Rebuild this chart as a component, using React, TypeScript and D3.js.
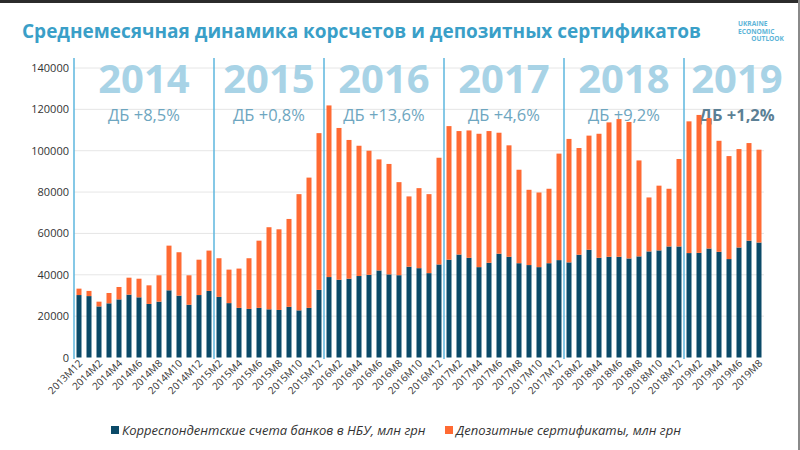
import React, { useEffect, useRef } from 'react';
import * as d3 from 'd3';

// месяцы по оси X
const months = (
  '2013M12 ' +
  '2014M1 2014M2 2014M3 2014M4 2014M5 2014M6 2014M7 2014M8 2014M9 2014M10 2014M11 2014M12 ' +
  '2015M1 2015M2 2015M3 2015M4 2015M5 2015M6 2015M7 2015M8 2015M9 2015M10 2015M11 2015M12 ' +
  '2016M1 2016M2 2016M3 2016M4 2016M5 2016M6 2016M7 2016M8 2016M9 2016M10 2016M11 2016M12 ' +
  '2017M1 2017M2 2017M3 2017M4 2017M5 2017M6 2017M7 2017M8 2017M9 2017M10 2017M11 2017M12 ' +
  '2018M1 2018M2 2018M3 2018M4 2018M5 2018M6 2018M7 2018M8 2018M9 2018M10 2018M11 2018M12 ' +
  '2019M1 2019M2 2019M3 2019M4 2019M5 2019M6 2019M7 2019M8'
).split(' ');

// корсчета банков в НБУ, млн грн
const corr = [
  30200,
  29700, 24700, 26200, 28100, 30400, 29100, 25900, 27000, 32500, 29900, 25500, 30200,
  32200, 29300, 26300, 24000, 23500, 24000, 23300, 23000, 24500, 22800, 24000, 32700,
  38900, 37600, 38100, 39400, 40000, 42100, 40200, 39800, 43900, 43200, 40800, 45000,
  47300, 49800, 48200, 43700, 45800, 50200, 48700, 45600, 44700, 43700, 45600, 47100,
  46000, 49700, 52100, 48200, 48700, 48700, 47900, 48900, 51300, 51800, 53700, 53700,
  50500, 50600, 52700, 51100, 47600, 53200, 56500, 55600,
];

// депозитные сертификаты, млн грн
const cds = [
  3100,
  2500, 2300, 5000, 6000, 8200, 9000, 9000, 12750, 21600, 21000, 14250, 17100,
  19500, 18700, 16200, 19000, 24500, 32500, 39700, 39000, 42500, 56200, 63000, 75800,
  83000, 73400, 67100, 63000, 60000, 53700, 53400, 45000, 34000, 38700, 38200, 51600,
  64600, 59700, 61600, 64500, 63700, 58500, 53900, 45200, 36400, 36100, 36000, 51500,
  59700, 51600, 55200, 60000, 65000, 66600, 66000, 46400, 26100, 31300, 27900, 42300,
  63700, 66700, 63100, 53700, 49800, 47600, 47200, 44900,
];

const yTicks = [0, 20000, 40000, 60000, 80000, 100000, 120000, 140000];

// годы, прирост ДБ и месяц, с которого начинается блок года
const years = ['2014', '2015', '2016', '2017', '2018', '2019'];
const growth = ['ДБ +8,5%', 'ДБ +0,8%', 'ДБ +13,6%', 'ДБ +4,6%', 'ДБ +9,2%', 'ДБ +1,2%'];
const yearStart = ['2013M12', '2015M2', '2016M1', '2017M1', '2018M1', '2019M1'];

const seriesNames = ['Корреспондентские счета банков в НБУ, млн грн', 'Депозитные сертификаты, млн грн'];
const colors = ['#0b4a68', '#ff6a33'];

const App = () => {
  const chartRef = useRef(null);

  useEffect(() => {
    const svg = d3.select(chartRef.current);
    svg.selectAll('*').remove();

    const font = "'Open Sans', sans-serif";
    const left = 74, right = 764, top = 68, bottom = 357.5;

    const x = d3.scaleBand()
      .domain(months)
      .range([left, right])
      .paddingInner(0.5)
      .paddingOuter(0.25);

    const y = d3.scaleLinear()
      .domain([0, 140000])
      .range([bottom, top]);

    svg.append('rect').attr('width', 800).attr('height', 450).attr('fill', '#fff');
    svg.append('rect').attr('width', 800).attr('height', 3).attr('fill', '#2b2b2b');
    svg.append('rect').attr('x', 798).attr('width', 2).attr('height', 450).attr('fill', '#8a8a8a');

    // title + logo
    svg.append('text')
      .attr('x', 22).attr('y', 38)
      .style('font-family', font).style('font-weight', 700).style('font-size', '19px')
      .style('fill', '#3a9fc8')
      .text('Среднемесячная динамика корсчетов и депозитных сертификатов');

    const logo = svg.append('g')
      .style('font-family', font).style('font-weight', 700)
      .style('font-size', '6.6px').style('fill', '#5db5d8');
    logo.append('text').attr('x', 738).attr('y', 26).text('UKRAINE');
    logo.append('text').attr('x', 738).attr('y', 33.5).text('ECONOMIC');
    logo.append('text').attr('x', 784).attr('y', 41).attr('text-anchor', 'end').text('OUTLOOK');

    // grid
    svg.append('g')
      .selectAll('line')
      .data(yTicks.filter(d => d > 0))
      .enter().append('line')
      .attr('x1', left).attr('x2', right)
      .attr('y1', d => y(d)).attr('y2', d => y(d))
      .attr('stroke', '#e6e6e6').attr('stroke-width', 1);

    svg.append('g')
      .selectAll('text')
      .data(yTicks)
      .enter().append('text')
      .attr('x', 69).attr('y', d => y(d) + 4)
      .attr('text-anchor', 'end')
      .style('font-family', font).style('font-size', '11px').style('fill', '#333')
      .text(d => d);

    // year labels
    const bounds = yearStart.map(m => x(m) - x.step() * x.paddingInner() / 2);
    const ends = bounds.slice(1).concat([790]);

    svg.append('g')
      .selectAll('text')
      .data(years)
      .enter().append('text')
      .attr('x', (d, i) => (bounds[i] + ends[i]) / 2)
      .attr('y', 93)
      .attr('text-anchor', 'middle')
      .style('font-family', font).style('font-weight', 700).style('font-size', '40px')
      .style('fill', '#a8d3e6')
      .text(d => d);

    svg.append('g')
      .selectAll('text')
      .data(growth)
      .enter().append('text')
      .attr('x', (d, i) => (bounds[i] + ends[i]) / 2)
      .attr('y', 121)
      .attr('text-anchor', 'middle')
      .style('font-family', font)
      .style('font-weight', (d, i) => (i === growth.length - 1 ? 700 : 400))
      .style('font-size', '16.5px')
      .style('fill', (d, i) => (i === growth.length - 1 ? '#5b8095' : '#6ea6c0'))
      .text(d => d);

    // stacked bars
    const table = months.map((m, i) => ({ month: m, corr: corr[i], cds: cds[i] }));
    const stacked = d3.stack().keys(['corr', 'cds'])(table);

    svg.append('g')
      .selectAll('g')
      .data(stacked)
      .enter().append('g')
      .attr('fill', (d, i) => colors[i])
      .selectAll('rect')
      .data(d => d)
      .enter().append('rect')
      .attr('x', d => x(d.data.month))
      .attr('y', d => y(d[1]))
      .attr('height', d => y(d[0]) - y(d[1]))
      .attr('width', x.bandwidth());

    // year separators
    svg.append('g')
      .selectAll('line')
      .data(bounds)
      .enter().append('line')
      .attr('x1', d => d).attr('x2', d => d)
      .attr('y1', 58).attr('y2', 359)
      .attr('stroke', '#5cb6de').attr('stroke-width', 1.5);

    // x labels, every other month
    svg.append('g')
      .selectAll('text')
      .data(months.filter((m, i) => i % 2 === 0))
      .enter().append('text')
      .attr('transform', d => `translate(${x(d) + x.bandwidth() / 2 + 4},${364}) rotate(-45)`)
      .attr('text-anchor', 'end')
      .style('font-family', font).style('font-size', '10px').style('fill', '#333')
      .text(d => d);

    // legend
    const legend = svg.append('g')
      .style('font-family', font).style('font-style', 'italic').style('font-size', '13px').style('fill', '#333');
    const legendX = [111, 445];
    seriesNames.forEach((name, i) => {
      legend.append('rect')
        .attr('x', legendX[i]).attr('y', 426).attr('width', 8).attr('height', 8)
        .attr('fill', colors[i]);
      legend.append('text')
        .attr('x', legendX[i] + 11).attr('y', 434.5)
        .text(name);
    });
  }, []);

  return (
    <div style={{ position: 'absolute', left: 0, top: 0 }}>
      <svg ref={chartRef} width={800} height={450}></svg>
    </div>
  );
};

export default App;
